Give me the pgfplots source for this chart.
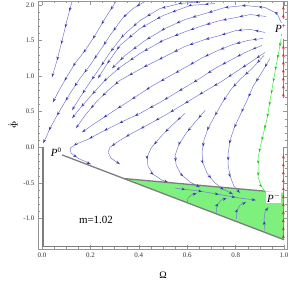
\documentclass[border=0pt]{standalone}
\usepackage{fontspec}
\setmainfont{Liberation Serif}
\usepackage{pgfplots}
\pgfplotsset{compat=1.18}
\usetikzlibrary{decorations.markings,arrows.meta}
\definecolor{slc}{RGB}{120,120,210}
\definecolor{sla}{RGB}{60,60,170}
\definecolor{grn}{RGB}{60,235,60}
\definecolor{grna}{RGB}{30,190,30}
\definecolor{rd}{RGB}{255,90,90}
\definecolor{rda}{RGB}{235,30,30}
\definecolor{gfill}{RGB}{125,240,125}
\definecolor{frm}{RGB}{150,150,150}
\definecolor{bnd}{RGB}{125,125,125}
\pgfplotsset{
  sl/.style={no markers, line width=0.5pt, color=slc,
    postaction={decorate},
    decoration={markings,
      mark=between positions 10pt and -10pt step 17pt with {\arrow[sla]{Stealth[length=3.6pt,width=2.8pt]}},
      mark=at position -0.6pt with {\arrow[sla]{Stealth[length=3.6pt,width=2.8pt]}}}},
  gl/.style={no markers, line width=0.5pt, color=grn,
    postaction={decorate},
    decoration={markings,
      mark=between positions 8pt and -2pt step 12pt with {\arrow[grna]{Stealth[length=3.4pt,width=2.6pt]}}}},
  rl/.style={no markers, line width=0.6pt, color=rd,
    postaction={decorate},
    decoration={markings,
      mark=between positions 5pt and -2pt step 8pt with {\arrow[rda]{Stealth[length=3.4pt,width=2.8pt]}}}},
}
\begin{document}
\begin{tikzpicture}
\begin{axis}[
  scale only axis, width=249bp, height=248bp,
  xmin=-0.0165, xmax=1.012, ymin=-1.43, ymax=2.055,
  clip mode=individual,
  axis line style={frm, line width=0.5pt},
  tick style={frm, line width=0.4pt},
  tick align=inside,
  major tick length=4bp, minor tick length=2.2bp,
  xtick={0,0.2,0.4,0.6,0.8,1.0}, minor x tick num=3,
  ytick={-1,-0.5,0,0.5,1,1.5,2}, minor y tick num=4,
  ticklabel style={font=\fontsize{7}{8}\selectfont, text=black!80},
  /pgf/number format/assume math mode=true,
  /pgf/number format/fixed,
  /pgf/number format/fixed zerofill,
  /pgf/number format/precision=1,
  xlabel={Ω}, ylabel={$\dot{\Phi}$},
  xlabel style={at={(axis description cs:0.502,-0.105)}, anchor=center, font=\fontsize{10}{12}\selectfont},
  ylabel style={at={(axis description cs:-0.1,0.5)}, anchor=center, font=\fontsize{10}{12}\selectfont},
]
% green region
\addplot[fill=gfill, draw=none] coordinates {(0.3385,-0.44) (0.921,-0.617) (1.0,-0.64) (1.0,-1.30)} -- cycle;
% boundaries
\addplot[bnd, line width=1.3pt, no markers] coordinates {(0.004,0.0) (0.004,-1.39) (1.0,-1.39)};
\addplot[bnd, line width=1.3pt, no markers] coordinates {(0.083,-0.108) (1.0,-1.30)};
\addplot[bnd, line width=1.3pt, no markers] coordinates {(0.3385,-0.44) (0.921,-0.617)};
% red streamlines at Omega=1
\addplot[rl] coordinates {(0.997,-1.30) (0.997,0.0)};
\addplot[rl] coordinates {(0.997,0.69) (0.997,1.52)};
\addplot[rl] coordinates {(0.997,1.80) (0.997,2.05)};
% green separatrix
\addplot[gl] coordinates {(0.988,1.529) (0.979,1.360) (0.967,1.150) (0.955,0.912) (0.942,0.659) (0.930,0.407) (0.913,0.168) (0.901,0.0) (0.893,-0.140) (0.893,-0.281) (0.893,-0.421) (0.905,-0.547) (0.926,-0.645)};
% blue streamlines
\addplot[sl] coordinates {(0.124,2.050) (0.103,1.781) (0.083,1.501) (0.062,1.220) (0.041,0.982)};
\addplot[sl] coordinates {(0.306,2.050) (0.260,1.809) (0.219,1.571) (0.178,1.360) (0.136,1.178) (0.099,0.968) (0.066,0.771) (0.045,0.631)};
\addplot[sl] coordinates {(0.426,2.050) (0.376,1.950) (0.335,1.823) (0.281,1.571) (0.240,1.360) (0.198,1.150) (0.157,0.968) (0.124,0.799) (0.091,0.617) (0.058,0.421) (0.033,0.266) (0.017,0.140) (0.004,0.056)};
\addplot[sl] coordinates {(0.674,2.050) (0.570,2.020) (0.488,1.950) (0.405,1.781) (0.335,1.571) (0.281,1.332) (0.240,1.122) (0.198,0.912) (0.157,0.701) (0.124,0.519)};
\addplot[sl] coordinates {(0.715,2.020) (0.612,1.992) (0.500,1.851) (0.405,1.669) (0.322,1.431) (0.273,1.192) (0.231,0.968)};
\addplot[sl] coordinates {(0.988,1.557) (0.992,1.725) (0.971,1.879) (0.921,1.964) (0.839,1.992) (0.756,1.964) (0.674,1.879) (0.591,1.795) (0.508,1.669) (0.426,1.501) (0.343,1.290) (0.289,1.108)};
\addplot[sl] coordinates {(0.926,1.837) (0.860,1.865) (0.802,1.823) (0.736,1.781) (0.665,1.711) (0.583,1.613) (0.500,1.501) (0.405,1.318) (0.322,1.122) (0.260,0.940) (0.207,0.743) (0.157,0.547) (0.124,0.407)};
\addplot[sl] coordinates {(0.921,1.613) (0.860,1.655) (0.802,1.641) (0.736,1.571) (0.674,1.515) (0.591,1.417) (0.517,1.290) (0.426,1.136) (0.322,0.940) (0.273,0.799) (0.223,0.631) (0.178,0.449) (0.140,0.266)};
\addplot[sl] coordinates {(0.913,1.529) (0.851,1.501) (0.789,1.445) (0.727,1.360) (0.665,1.262) (0.570,1.080) (0.459,0.870) (0.364,0.659) (0.281,0.477) (0.219,0.337) (0.165,0.210)};
\addplot[sl] coordinates {(0.909,1.431) (0.839,1.332) (0.777,1.220) (0.715,1.108) (0.653,0.968) (0.570,0.799) (0.488,0.631) (0.405,0.477) (0.335,0.365) (0.260,0.238) (0.190,0.112) (0.140,0.042) (0.116,-0.014) (0.120,-0.084) (0.149,-0.154) (0.202,-0.238)};
\addplot[sl] coordinates {(0.921,1.332) (0.860,1.192) (0.798,1.052) (0.736,0.912) (0.665,0.771) (0.591,0.617) (0.508,0.449) (0.426,0.295) (0.364,0.182) (0.322,0.098) (0.281,0.0) (0.273,-0.070) (0.285,-0.154) (0.322,-0.238)};
\addplot[sl] coordinates {(0.591,0.477) (0.537,0.309) (0.488,0.140) (0.450,-0.014) (0.434,-0.140) (0.438,-0.266) (0.459,-0.379) (0.496,-0.463) (0.521,-0.491)};
\addplot[sl] coordinates {(0.674,0.519) (0.632,0.351) (0.595,0.196) (0.566,0.042) (0.550,-0.112) (0.554,-0.252) (0.574,-0.379) (0.612,-0.491) (0.653,-0.561)};
\addplot[sl] coordinates {(0.917,1.290) (0.868,1.108) (0.818,0.954) (0.781,0.813) (0.748,0.645) (0.715,0.449) (0.686,0.266) (0.669,0.098) (0.661,-0.070) (0.665,-0.224) (0.682,-0.365) (0.711,-0.491) (0.748,-0.589) (0.789,-0.659)};
\addplot[sl] coordinates {(0.942,1.248) (0.913,1.080) (0.872,0.856) (0.847,0.659) (0.818,0.449) (0.793,0.266) (0.777,0.098) (0.769,-0.084) (0.769,-0.252) (0.777,-0.407) (0.793,-0.547) (0.818,-0.645)};
% flows inside green region
\addplot[sl] coordinates {(0.550,-0.575) (0.653,-0.617) (0.748,-0.673) (0.818,-0.715) (0.884,-0.743)};
\addplot[sl] coordinates {(0.599,-0.785) (0.603,-0.715) (0.616,-0.673) (0.640,-0.645)};
\addplot[sl] coordinates {(0.719,-0.926) (0.723,-0.813) (0.740,-0.743) (0.764,-0.715)};
\addplot[sl] coordinates {(0.802,-1.010) (0.806,-0.884) (0.818,-0.813) (0.843,-0.771)};
\addplot[sl] coordinates {(0.921,-1.178) (0.917,-1.024) (0.921,-0.912) (0.934,-0.842)};
% labels
\node[fill=white, inner sep=1pt, font=\fontsize{11}{12}\selectfont] at (axis cs:0.058,-0.07) {\textit{P}\raisebox{0.9ex}{\fontsize{7}{8}\selectfont 0}};
\node[fill=white, inner sep=1pt, font=\fontsize{11}{12}\selectfont] at (axis cs:0.985,1.67) {\textit{P}\raisebox{0.9ex}{\fontsize{7}{8}\selectfont +}};
\node[fill=white, inner sep=1pt, font=\fontsize{11}{12}\selectfont] at (axis cs:0.957,-0.708) {\textit{P}\raisebox{0.9ex}{\fontsize{7}{8}\selectfont $-$}};
\node[font=\fontsize{11}{13}\selectfont] at (axis cs:0.223,-1.02) {m=1.02};
\end{axis}
\path ([xshift=-38bp,yshift=-33bp]current axis.south west) coordinate (bbsw);
\path ([xshift=4bp,yshift=1bp]current axis.north east) coordinate (bbne);
\pgfresetboundingbox
\useasboundingbox (bbsw) rectangle (bbne);
\end{tikzpicture}
\end{document}
